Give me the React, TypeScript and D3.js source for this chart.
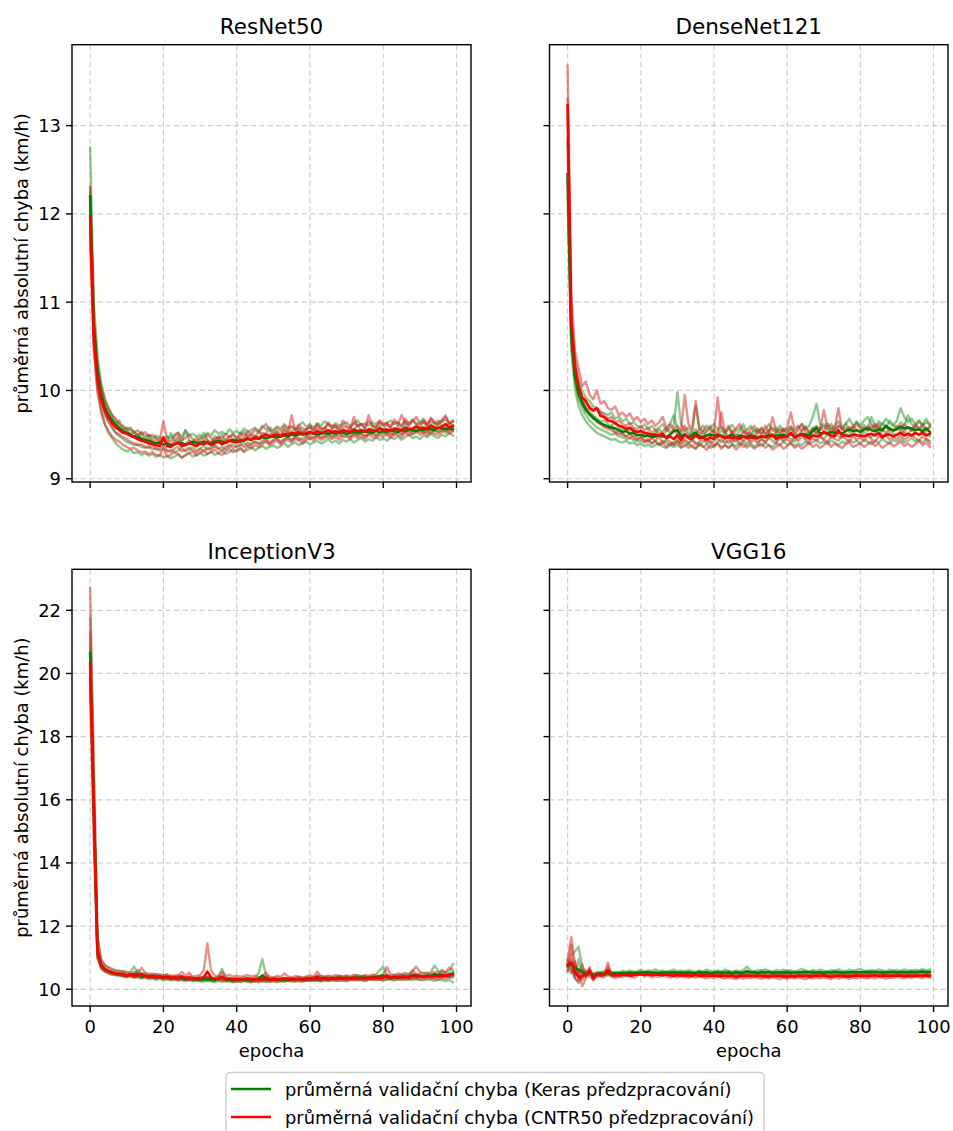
import React from 'react';
import * as d3 from 'd3';

const EPOCHS = d3.range(0, 100);
const X_TICKS = [0, 20, 40, 60, 80, 100];
const Y_TICKS_TOP = [9, 10, 11, 12, 13];
const Y_TICKS_BOTTOM = [10, 12, 14, 16, 18, 20, 22];
const TITLES = ['ResNet50', 'DenseNet121', 'InceptionV3', 'VGG16'];
const LEGEND_LABELS = [
  'průměrná validační chyba (Keras předzpracování)',
  'průměrná validační chyba (CNTR50 předzpracování)',
];
const Y_LABEL = 'průměrná absolutní chyba (km/h)';
const X_LABEL = 'epocha';

// ---------------- ResNet50 ----------------
const RESNET_KERAS_MEAN = [
  12.20, 10.75, 10.22, 9.96, 9.81, 9.72, 9.66, 9.61, 9.57, 9.54,
  9.52, 9.50, 9.48, 9.47, 9.45, 9.44, 9.43, 9.41, 9.40, 9.41,
  9.39, 9.40, 9.38, 9.39, 9.41, 9.40, 9.39, 9.40, 9.42, 9.41,
  9.40, 9.42, 9.41, 9.40, 9.42, 9.43, 9.42, 9.41, 9.43, 9.44,
  9.43, 9.42, 9.44, 9.45, 9.44, 9.46, 9.45, 9.47, 9.46, 9.47,
  9.48, 9.47, 9.48, 9.49, 9.48, 9.50, 9.49, 9.50, 9.51, 9.50,
  9.52, 9.51, 9.50, 9.51, 9.52, 9.51, 9.52, 9.51, 9.53, 9.52,
  9.51, 9.52, 9.53, 9.52, 9.53, 9.54, 9.53, 9.52, 9.54, 9.53,
  9.54, 9.53, 9.55, 9.54, 9.53, 9.55, 9.54, 9.56, 9.55, 9.54,
  9.56, 9.55, 9.57, 9.56, 9.55, 9.58, 9.57, 9.56, 9.57, 9.56,
];
const RESNET_CNTR_MEAN = [
  11.97, 10.62, 10.12, 9.90, 9.77, 9.69, 9.63, 9.58, 9.55, 9.52,
  9.51, 9.49, 9.47, 9.45, 9.43, 9.42, 9.40, 9.39, 9.38, 9.37,
  9.47, 9.37, 9.36, 9.39, 9.41, 9.37, 9.38, 9.40, 9.39, 9.37,
  9.40, 9.39, 9.41, 9.38, 9.40, 9.42, 9.39, 9.41, 9.43, 9.42,
  9.41, 9.44, 9.43, 9.46, 9.44, 9.47, 9.46, 9.48, 9.50, 9.48,
  9.49, 9.50, 9.48, 9.51, 9.50, 9.52, 9.51, 9.53, 9.50, 9.52,
  9.53, 9.51, 9.54, 9.52, 9.53, 9.55, 9.53, 9.54, 9.52, 9.55,
  9.54, 9.53, 9.56, 9.54, 9.55, 9.53, 9.56, 9.55, 9.54, 9.57,
  9.55, 9.56, 9.54, 9.57, 9.56, 9.55, 9.58, 9.56, 9.57, 9.59,
  9.57, 9.58, 9.56, 9.60, 9.58, 9.57, 9.59, 9.62, 9.58, 9.60,
];
const RESNET_KERAS_RUNS = [
  [12.75, 11.00, 10.40, 10.08, 9.92, 9.80, 9.72, 9.66, 9.60, 9.58,
   9.55, 9.56, 9.52, 9.50, 9.53, 9.48, 9.50, 9.46, 9.49, 9.47,
   9.44, 9.48, 9.46, 9.50, 9.52, 9.47, 9.55, 9.49, 9.51, 9.48,
   9.50, 9.47, 9.52, 9.49, 9.55, 9.51, 9.53, 9.50, 9.56, 9.52,
   9.54, 9.51, 9.57, 9.53, 9.55, 9.58, 9.54, 9.60, 9.56, 9.58,
   9.55, 9.59, 9.57, 9.62, 9.58, 9.60, 9.56, 9.61, 9.64, 9.59,
   9.62, 9.58, 9.63, 9.60, 9.65, 9.61, 9.59, 9.63, 9.60, 9.62,
   9.64, 9.60, 9.62, 9.66, 9.61, 9.63, 9.60, 9.64, 9.62, 9.65,
   9.61, 9.63, 9.66, 9.62, 9.64, 9.60, 9.65, 9.63, 9.67, 9.62,
   9.64, 9.68, 9.63, 9.65, 9.62, 9.66, 9.64, 9.67, 9.63, 9.65],
  [11.90, 10.50, 10.02, 9.78, 9.62, 9.52, 9.46, 9.40, 9.36, 9.33,
   9.31, 9.33, 9.29, 9.30, 9.27, 9.29, 9.26, 9.28, 9.25, 9.27,
   9.24, 9.26, 9.23, 9.25, 9.28, 9.24, 9.26, 9.29, 9.25, 9.27,
   9.30, 9.26, 9.28, 9.31, 9.27, 9.29, 9.32, 9.28, 9.30, 9.33,
   9.31, 9.34, 9.30, 9.33, 9.36, 9.32, 9.35, 9.37, 9.34, 9.36,
   9.38, 9.35, 9.37, 9.40, 9.36, 9.39, 9.41, 9.38, 9.40, 9.42,
   9.39, 9.41, 9.43, 9.40, 9.42, 9.45, 9.41, 9.43, 9.40, 9.44,
   9.42, 9.45, 9.41, 9.44, 9.46, 9.42, 9.45, 9.43, 9.47, 9.44,
   9.46, 9.43, 9.47, 9.45, 9.48, 9.44, 9.47, 9.50, 9.46, 9.48,
   9.45, 9.49, 9.47, 9.51, 9.48, 9.46, 9.50, 9.48, 9.52, 9.49],
  [12.30, 10.85, 10.30, 10.02, 9.86, 9.75, 9.70, 9.62, 9.66, 9.55,
   9.58, 9.50, 9.54, 9.47, 9.52, 9.45, 9.49, 9.43, 9.47, 9.42,
   9.46, 9.40, 9.52, 9.43, 9.48, 9.41, 9.55, 9.44, 9.40, 9.47,
   9.42, 9.52, 9.44, 9.40, 9.48, 9.45, 9.50, 9.43, 9.47, 9.51,
   9.45, 9.49, 9.53, 9.47, 9.51, 9.46, 9.54, 9.49, 9.52, 9.56,
   9.50, 9.54, 9.48, 9.57, 9.52, 9.55, 9.50, 9.58, 9.53, 9.56,
   9.60, 9.52, 9.57, 9.54, 9.58, 9.51, 9.56, 9.60, 9.53, 9.57,
   9.52, 9.58, 9.55, 9.61, 9.54, 9.57, 9.52, 9.59, 9.56, 9.60,
   9.55, 9.62, 9.57, 9.53, 9.60, 9.56, 9.63, 9.58, 9.54, 9.61,
   9.58, 9.65, 9.59, 9.62, 9.56, 9.64, 9.60, 9.57, 9.63, 9.59],
  [12.05, 10.65, 10.15, 9.92, 9.76, 9.66, 9.58, 9.52, 9.48, 9.45,
   9.42, 9.40, 9.38, 9.39, 9.36, 9.35, 9.37, 9.33, 9.35, 9.32,
   9.34, 9.31, 9.33, 9.30, 9.32, 9.35, 9.31, 9.33, 9.36, 9.32,
   9.34, 9.37, 9.33, 9.35, 9.38, 9.34, 9.36, 9.33, 9.37, 9.39,
   9.36, 9.38, 9.41, 9.37, 9.40, 9.42, 9.39, 9.41, 9.43, 9.40,
   9.43, 9.45, 9.41, 9.44, 9.46, 9.43, 9.47, 9.44, 9.46, 9.48,
   9.45, 9.47, 9.49, 9.46, 9.48, 9.50, 9.47, 9.49, 9.51, 9.48,
   9.50, 9.47, 9.51, 9.49, 9.52, 9.48, 9.50, 9.53, 9.49, 9.51,
   9.53, 9.50, 9.52, 9.49, 9.54, 9.51, 9.53, 9.55, 9.50, 9.53,
   9.55, 9.52, 9.54, 9.51, 9.56, 9.53, 9.55, 9.52, 9.57, 9.54],
];
const RESNET_CNTR_RUNS = [
  [12.30, 10.80, 10.25, 10.05, 9.88, 9.80, 9.72, 9.68, 9.62, 9.60,
   9.56, 9.58, 9.52, 9.55, 9.50, 9.53, 9.48, 9.50, 9.46, 9.44,
   9.65, 9.45, 9.42, 9.48, 9.52, 9.44, 9.46, 9.50, 9.45, 9.42,
   9.47, 9.44, 9.50, 9.46, 9.42, 9.48, 9.45, 9.51, 9.47, 9.50,
   9.46, 9.52, 9.48, 9.54, 9.50, 9.56, 9.52, 9.58, 9.62, 9.55,
   9.53, 9.58, 9.54, 9.60, 9.56, 9.59, 9.55, 9.61, 9.57, 9.55,
   9.60, 9.56, 9.62, 9.58, 9.55, 9.64, 9.59, 9.61, 9.57, 9.66,
   9.60, 9.58, 9.64, 9.60, 9.62, 9.58, 9.65, 9.61, 9.59, 9.66,
   9.62, 9.64, 9.59, 9.67, 9.63, 9.60, 9.68, 9.62, 9.65, 9.70,
   9.63, 9.66, 9.61, 9.69, 9.64, 9.62, 9.67, 9.72, 9.63, 9.66],
  [11.75, 10.45, 9.98, 9.75, 9.62, 9.54, 9.48, 9.44, 9.42, 9.38,
   9.36, 9.34, 9.35, 9.32, 9.30, 9.31, 9.28, 9.30, 9.27, 9.26,
   9.35, 9.25, 9.27, 9.30, 9.28, 9.24, 9.27, 9.29, 9.31, 9.26,
   9.29, 9.32, 9.28, 9.30, 9.33, 9.29, 9.27, 9.31, 9.34, 9.30,
   9.32, 9.35, 9.31, 9.37, 9.34, 9.38, 9.36, 9.39, 9.42, 9.38,
   9.41, 9.43, 9.39, 9.42, 9.44, 9.41, 9.45, 9.43, 9.40, 9.44,
   9.46, 9.43, 9.47, 9.44, 9.46, 9.48, 9.45, 9.47, 9.44, 9.48,
   9.47, 9.45, 9.49, 9.46, 9.48, 9.45, 9.50, 9.47, 9.46, 9.49,
   9.48, 9.50, 9.46, 9.51, 9.49, 9.47, 9.52, 9.49, 9.51, 9.53,
   9.50, 9.52, 9.49, 9.54, 9.51, 9.50, 9.53, 9.55, 9.51, 9.54],
  [12.10, 10.70, 10.18, 9.95, 9.80, 9.72, 9.66, 9.60, 9.57, 9.54,
   9.53, 9.50, 9.48, 9.50, 9.46, 9.44, 9.45, 9.42, 9.43, 9.40,
   9.44, 9.41, 9.38, 9.42, 9.45, 9.40, 9.39, 9.43, 9.41, 9.38,
   9.42, 9.40, 9.44, 9.41, 9.45, 9.47, 9.42, 9.44, 9.48, 9.45,
   9.43, 9.47, 9.45, 9.50, 9.47, 9.49, 9.46, 9.52, 9.49, 9.51,
   9.50, 9.53, 9.49, 9.55, 9.52, 9.72, 9.54, 9.57, 9.52, 9.56,
   9.58, 9.54, 9.60, 9.56, 9.58, 9.62, 9.57, 9.59, 9.55, 9.60,
   9.58, 9.56, 9.70, 9.59, 9.62, 9.57, 9.72, 9.60, 9.58, 9.63,
   9.60, 9.62, 9.58, 9.64, 9.61, 9.72, 9.63, 9.60, 9.66, 9.62,
   9.61, 9.64, 9.60, 9.68, 9.63, 9.61, 9.65, 9.70, 9.62, 9.64],
  [11.80, 10.55, 10.08, 9.85, 9.72, 9.64, 9.58, 9.52, 9.50, 9.47,
   9.45, 9.42, 9.40, 9.38, 9.39, 9.36, 9.35, 9.37, 9.33, 9.34,
   9.38, 9.32, 9.30, 9.34, 9.36, 9.31, 9.33, 9.35, 9.32, 9.30,
   9.34, 9.31, 9.35, 9.33, 9.37, 9.34, 9.32, 9.36, 9.38, 9.35,
   9.37, 9.39, 9.36, 9.41, 9.38, 9.42, 9.40, 9.43, 9.45, 9.41,
   9.44, 9.46, 9.42, 9.45, 9.47, 9.44, 9.48, 9.46, 9.43, 9.47,
   9.49, 9.46, 9.50, 9.47, 9.49, 9.51, 9.48, 9.50, 9.47, 9.52,
   9.50, 9.48, 9.52, 9.49, 9.51, 9.48, 9.53, 9.50, 9.49, 9.52,
   9.51, 9.53, 9.49, 9.54, 9.52, 9.50, 9.55, 9.52, 9.54, 9.56,
   9.53, 9.55, 9.52, 9.57, 9.54, 9.53, 9.56, 9.58, 9.54, 9.57],
];

// ---------------- DenseNet121 ----------------
const DENSENET_KERAS_MEAN = [
  12.45, 10.62, 10.16, 9.96, 9.86, 9.78, 9.73, 9.69, 9.66, 9.63,
  9.61, 9.59, 9.58, 9.57, 9.55, 9.53, 9.54, 9.51, 9.52, 9.49,
  9.50, 9.48, 9.49, 9.47, 9.48, 9.49, 9.48, 9.47, 9.50, 9.54,
  9.55, 9.48, 9.50, 9.47, 9.49, 9.52, 9.48, 9.47, 9.49, 9.50,
  9.49, 9.48, 9.49, 9.47, 9.48, 9.50, 9.46, 9.49, 9.48, 9.47,
  9.49, 9.48, 9.47, 9.48, 9.47, 9.50, 9.48, 9.49, 9.49, 9.50,
  9.48, 9.51, 9.47, 9.49, 9.51, 9.50, 9.49, 9.54, 9.58, 9.51,
  9.52, 9.51, 9.53, 9.52, 9.52, 9.51, 9.54, 9.56, 9.54, 9.55,
  9.53, 9.56, 9.57, 9.55, 9.54, 9.56, 9.55, 9.60, 9.56, 9.55,
  9.56, 9.59, 9.57, 9.58, 9.57, 9.55, 9.56, 9.54, 9.57, 9.53,
];
const DENSENET_CNTR_MEAN = [
  13.23, 10.80, 10.28, 10.05, 9.92, 9.88, 9.80, 9.77, 9.80, 9.71,
  9.70, 9.66, 9.65, 9.63, 9.60, 9.59, 9.56, 9.58, 9.54, 9.53,
  9.54, 9.52, 9.51, 9.50, 9.50, 9.49, 9.51, 9.46, 9.48, 9.45,
  9.49, 9.44, 9.50, 9.46, 9.45, 9.49, 9.46, 9.47, 9.44, 9.47,
  9.45, 9.50, 9.48, 9.46, 9.47, 9.46, 9.47, 9.45, 9.48, 9.46,
  9.47, 9.46, 9.46, 9.48, 9.47, 9.48, 9.50, 9.45, 9.48, 9.47,
  9.48, 9.52, 9.47, 9.49, 9.50, 9.48, 9.46, 9.49, 9.48, 9.49,
  9.53, 9.51, 9.49, 9.48, 9.55, 9.49, 9.49, 9.48, 9.50, 9.49,
  9.49, 9.48, 9.50, 9.51, 9.49, 9.52, 9.47, 9.50, 9.50, 9.48,
  9.50, 9.52, 9.49, 9.51, 9.49, 9.52, 9.50, 9.52, 9.49, 9.51,
];
const DENSENET_KERAS_RUNS = [
  [12.80, 10.85, 10.35, 10.12, 10.00, 9.92, 9.88, 9.82, 9.80, 9.76,
   9.74, 9.72, 9.75, 9.68, 9.70, 9.65, 9.68, 9.62, 9.64, 9.60,
   9.58, 9.62, 9.56, 9.60, 9.55, 9.58, 9.62, 9.54, 9.57, 9.60,
   9.98, 9.62, 9.55, 9.58, 9.52, 9.82, 9.56, 9.60, 9.53, 9.58,
   9.62, 9.55, 9.59, 9.52, 9.57, 9.61, 9.54, 9.58, 9.52, 9.56,
   9.60, 9.53, 9.57, 9.51, 9.55, 9.62, 9.54, 9.58, 9.52, 9.57,
   9.55, 9.60, 9.53, 9.58, 9.62, 9.56, 9.60, 9.70, 9.85, 9.62,
   9.58, 9.63, 9.56, 9.60, 9.65, 9.58, 9.62, 9.68, 9.60, 9.64,
   9.60, 9.66, 9.70, 9.62, 9.58, 9.65, 9.61, 9.68, 9.63, 9.60,
   9.66, 9.80, 9.70, 9.64, 9.68, 9.62, 9.66, 9.60, 9.64, 9.62],
  [12.20, 10.45, 10.02, 9.82, 9.72, 9.65, 9.60, 9.56, 9.52, 9.50,
   9.48, 9.46, 9.44, 9.45, 9.42, 9.41, 9.43, 9.40, 9.41, 9.38,
   9.40, 9.37, 9.39, 9.36, 9.38, 9.40, 9.36, 9.35, 9.38, 9.36,
   9.39, 9.35, 9.37, 9.40, 9.36, 9.34, 9.38, 9.36, 9.39, 9.35,
   9.37, 9.40, 9.36, 9.38, 9.35, 9.39, 9.37, 9.41, 9.36, 9.38,
   9.40, 9.36, 9.39, 9.37, 9.41, 9.38, 9.36, 9.40, 9.38, 9.42,
   9.39, 9.41, 9.37, 9.40, 9.38, 9.42, 9.39, 9.41, 9.44, 9.40,
   9.42, 9.39, 9.43, 9.41, 9.38, 9.42, 9.40, 9.44, 9.41, 9.43,
   9.40, 9.44, 9.42, 9.39, 9.43, 9.41, 9.45, 9.42, 9.40, 9.44,
   9.42, 9.45, 9.41, 9.43, 9.46, 9.42, 9.44, 9.41, 9.45, 9.43],
  [12.45, 10.65, 10.18, 9.98, 9.88, 9.80, 9.75, 9.72, 9.68, 9.65,
   9.66, 9.62, 9.60, 9.63, 9.58, 9.56, 9.59, 9.54, 9.57, 9.52,
   9.55, 9.50, 9.53, 9.48, 9.52, 9.56, 9.50, 9.54, 9.62, 9.72,
   9.58, 9.50, 9.55, 9.48, 9.53, 9.50, 9.56, 9.49, 9.54, 9.60,
   9.52, 9.48, 9.55, 9.50, 9.57, 9.51, 9.48, 9.54, 9.62, 9.52,
   9.49, 9.56, 9.51, 9.58, 9.50, 9.55, 9.48, 9.53, 9.60, 9.54,
   9.50, 9.57, 9.52, 9.48, 9.55, 9.60, 9.53, 9.58, 9.52, 9.56,
   9.62, 9.54, 9.58, 9.52, 9.60, 9.56, 9.63, 9.55, 9.59, 9.65,
   9.57, 9.61, 9.55, 9.70, 9.60, 9.56, 9.63, 9.58, 9.66, 9.61,
   9.57, 9.64, 9.60, 9.72, 9.62, 9.58, 9.65, 9.61, 9.68, 9.60],
  [12.35, 10.55, 10.10, 9.90, 9.80, 9.72, 9.66, 9.62, 9.58, 9.56,
   9.54, 9.52, 9.50, 9.51, 9.48, 9.47, 9.45, 9.46, 9.44, 9.42,
   9.43, 9.41, 9.44, 9.40, 9.42, 9.39, 9.43, 9.41, 9.38, 9.42,
   9.45, 9.40, 9.43, 9.39, 9.44, 9.41, 9.38, 9.42, 9.45, 9.40,
   9.43, 9.46, 9.41, 9.44, 9.40, 9.45, 9.42, 9.47, 9.43, 9.40,
   9.44, 9.48, 9.42, 9.45, 9.41, 9.46, 9.50, 9.43, 9.47, 9.44,
   9.48, 9.45, 9.42, 9.47, 9.50, 9.46, 9.44, 9.49, 9.52, 9.47,
   9.45, 9.50, 9.47, 9.52, 9.48, 9.46, 9.51, 9.49, 9.54, 9.50,
   9.48, 9.53, 9.50, 9.47, 9.52, 9.55, 9.50, 9.48, 9.54, 9.51,
   9.49, 9.55, 9.52, 9.50, 9.56, 9.52, 9.49, 9.54, 9.51, 9.48],
];
const DENSENET_CNTR_RUNS = [
  [13.68, 11.10, 10.45, 10.25, 10.05, 10.10, 9.95, 9.90, 10.00, 9.85,
   9.88, 9.80, 9.78, 9.82, 9.72, 9.75, 9.70, 9.74, 9.66, 9.70,
   9.64, 9.68, 9.62, 9.66, 9.60, 9.64, 9.70, 9.58, 9.62, 9.56,
   9.60, 9.55, 9.95, 9.62, 9.56, 9.88, 9.58, 9.54, 9.60, 9.56,
   9.52, 9.92, 9.58, 9.54, 9.60, 9.52, 9.57, 9.62, 9.55, 9.50,
   9.56, 9.60, 9.53, 9.57, 9.50, 9.55, 9.58, 9.52, 9.56, 9.54,
   9.58, 9.75, 9.56, 9.60, 9.54, 9.58, 9.52, 9.56, 9.60, 9.55,
   9.78, 9.58, 9.62, 9.55, 9.60, 9.57, 9.54, 9.59, 9.56, 9.62,
   9.58, 9.55, 9.60, 9.56, 9.62, 9.58, 9.54, 9.60, 9.57, 9.55,
   9.60, 9.56, 9.62, 9.58, 9.55, 9.60, 9.57, 9.62, 9.56, 9.58],
  [13.30, 10.70, 10.22, 10.00, 9.88, 9.80, 9.74, 9.70, 9.66, 9.62,
   9.58, 9.60, 9.55, 9.52, 9.54, 9.50, 9.48, 9.51, 9.46, 9.44,
   9.47, 9.42, 9.45, 9.40, 9.43, 9.38, 9.41, 9.36, 9.40, 9.38,
   9.42, 9.36, 9.39, 9.35, 9.38, 9.34, 9.40, 9.37, 9.33, 9.38,
   9.36, 9.40, 9.34, 9.38, 9.35, 9.39, 9.33, 9.37, 9.40, 9.35,
   9.38, 9.34, 9.37, 9.40, 9.35, 9.38, 9.33, 9.36, 9.39, 9.34,
   9.37, 9.40, 9.35, 9.38, 9.34, 9.37, 9.41, 9.36, 9.39, 9.35,
   9.38, 9.42, 9.36, 9.40, 9.37, 9.35, 9.39, 9.41, 9.36, 9.38,
   9.40, 9.36, 9.39, 9.42, 9.37, 9.40, 9.35, 9.38, 9.41, 9.37,
   9.39, 9.42, 9.37, 9.40, 9.36, 9.39, 9.43, 9.38, 9.41, 9.36],
  [13.10, 10.75, 10.28, 10.05, 9.92, 9.86, 9.82, 9.78, 9.80, 9.75,
   9.72, 9.68, 9.70, 9.64, 9.66, 9.62, 9.60, 9.63, 9.58, 9.56,
   9.60, 9.55, 9.58, 9.52, 9.56, 9.50, 9.54, 9.58, 9.52, 9.56,
   9.50, 9.54, 9.60, 9.52, 9.48, 9.56, 9.50, 9.54, 9.48, 9.52,
   9.55, 9.50, 9.75, 9.52, 9.48, 9.54, 9.50, 9.47, 9.53, 9.49,
   9.52, 9.48, 9.55, 9.50, 9.60, 9.52, 9.70, 9.54, 9.50, 9.56,
   9.52, 9.58, 9.50, 9.55, 9.62, 9.53, 9.50, 9.56, 9.52, 9.58,
   9.54, 9.60, 9.52, 9.56, 9.80, 9.55, 9.58, 9.53, 9.60, 9.55,
   9.52, 9.58, 9.54, 9.60, 9.56, 9.62, 9.55, 9.52, 9.58, 9.54,
   9.56, 9.60, 9.53, 9.58, 9.55, 9.62, 9.56, 9.59, 9.54, 9.60],
  [12.85, 10.65, 10.18, 9.96, 9.84, 9.78, 9.72, 9.68, 9.64, 9.62,
   9.60, 9.56, 9.58, 9.53, 9.50, 9.52, 9.48, 9.46, 9.49, 9.45,
   9.47, 9.44, 9.42, 9.46, 9.43, 9.48, 9.40, 9.44, 9.42, 9.39,
   9.43, 9.40, 9.45, 9.41, 9.44, 9.39, 9.42, 9.46, 9.40, 9.43,
   9.38, 9.42, 9.45, 9.40, 9.44, 9.41, 9.46, 9.39, 9.43, 9.47,
   9.41, 9.44, 9.40, 9.45, 9.42, 9.47, 9.43, 9.40, 9.46, 9.42,
   9.45, 9.41, 9.47, 9.43, 9.48, 9.44, 9.41, 9.46, 9.43, 9.48,
   9.44, 9.42, 9.47, 9.45, 9.43, 9.49, 9.45, 9.42, 9.48, 9.44,
   9.47, 9.43, 9.49, 9.45, 9.42, 9.48, 9.46, 9.50, 9.44, 9.47,
   9.45, 9.49, 9.44, 9.47, 9.50, 9.46, 9.43, 9.48, 9.45, 9.40],
];

// ---------------- InceptionV3 ----------------
const INCEPTION_KERAS_MEAN = [
  20.65, 15.85, 11.25, 10.78, 10.64, 10.58, 10.53, 10.50, 10.49, 10.48,
  10.44, 10.47, 10.48, 10.48, 10.42, 10.43, 10.40, 10.39, 10.39, 10.38,
  10.38, 10.39, 10.36, 10.35, 10.36, 10.35, 10.32, 10.35, 10.32, 10.32,
  10.33, 10.31, 10.32, 10.30, 10.32, 10.32, 10.39, 10.32, 10.30, 10.29,
  10.31, 10.30, 10.31, 10.30, 10.29, 10.31, 10.34, 10.44, 10.32, 10.31,
  10.31, 10.30, 10.31, 10.30, 10.31, 10.31, 10.31, 10.33, 10.31, 10.32,
  10.34, 10.33, 10.33, 10.33, 10.35, 10.33, 10.35, 10.34, 10.36, 10.34,
  10.36, 10.34, 10.36, 10.36, 10.37, 10.36, 10.36, 10.37, 10.36, 10.42,
  10.44, 10.40, 10.37, 10.38, 10.38, 10.39, 10.39, 10.39, 10.45, 10.41,
  10.41, 10.40, 10.42, 10.42, 10.48, 10.44, 10.45, 10.43, 10.43, 10.50,
];
const INCEPTION_CNTR_MEAN = [
  20.30, 15.75, 11.20, 10.77, 10.64, 10.58, 10.54, 10.50, 10.49, 10.47,
  10.44, 10.46, 10.43, 10.44, 10.48, 10.43, 10.40, 10.43, 10.38, 10.41,
  10.37, 10.39, 10.36, 10.38, 10.35, 10.41, 10.36, 10.37, 10.35, 10.34,
  10.34, 10.38, 10.56, 10.38, 10.32, 10.35, 10.39, 10.32, 10.34, 10.31,
  10.32, 10.31, 10.32, 10.34, 10.31, 10.32, 10.30, 10.32, 10.37, 10.31,
  10.32, 10.31, 10.31, 10.35, 10.32, 10.32, 10.32, 10.32, 10.31, 10.33,
  10.33, 10.33, 10.40, 10.33, 10.34, 10.33, 10.34, 10.35, 10.36, 10.34,
  10.34, 10.35, 10.37, 10.35, 10.35, 10.35, 10.36, 10.37, 10.38, 10.36,
  10.38, 10.44, 10.38, 10.38, 10.39, 10.39, 10.40, 10.38, 10.43, 10.45,
  10.42, 10.40, 10.42, 10.41, 10.42, 10.41, 10.44, 10.43, 10.47, 10.47,
];
const INCEPTION_KERAS_RUNS = [
  [21.75, 16.80, 11.60, 10.90, 10.75, 10.68, 10.62, 10.58, 10.60, 10.55,
   10.52, 10.56, 10.72, 10.50, 10.48, 10.52, 10.46, 10.44, 10.48, 10.42,
   10.45, 10.40, 10.43, 10.38, 10.46, 10.40, 10.36, 10.42, 10.38, 10.35,
   10.40, 10.36, 10.38, 10.34, 10.37, 10.40, 10.65, 10.38, 10.35, 10.33,
   10.36, 10.34, 10.38, 10.35, 10.33, 10.37, 10.52, 10.95, 10.45, 10.36,
   10.34, 10.38, 10.35, 10.33, 10.37, 10.34, 10.36, 10.39, 10.35, 10.38,
   10.40, 10.36, 10.39, 10.42, 10.38, 10.41, 10.37, 10.40, 10.43, 10.39,
   10.42, 10.38, 10.41, 10.45, 10.40, 10.43, 10.39, 10.42, 10.46, 10.60,
   10.72, 10.45, 10.42, 10.46, 10.43, 10.48, 10.44, 10.47, 10.50, 10.46,
   10.49, 10.52, 10.48, 10.55, 10.75, 10.58, 10.50, 10.53, 10.56, 10.80],
  [20.90, 15.60, 11.10, 10.65, 10.55, 10.50, 10.46, 10.44, 10.42, 10.40,
   10.38, 10.40, 10.36, 10.38, 10.34, 10.36, 10.32, 10.34, 10.30, 10.33,
   10.29, 10.31, 10.28, 10.30, 10.27, 10.29, 10.26, 10.28, 10.25, 10.27,
   10.26, 10.24, 10.27, 10.25, 10.23, 10.26, 10.24, 10.27, 10.25, 10.22,
   10.25, 10.23, 10.26, 10.24, 10.22, 10.25, 10.23, 10.26, 10.24, 10.27,
   10.25, 10.23, 10.26, 10.24, 10.27, 10.25, 10.28, 10.26, 10.24, 10.27,
   10.29, 10.26, 10.28, 10.25, 10.29, 10.27, 10.30, 10.28, 10.26, 10.29,
   10.27, 10.30, 10.28, 10.31, 10.29, 10.27, 10.30, 10.32, 10.28, 10.31,
   10.29, 10.32, 10.30, 10.28, 10.31, 10.33, 10.30, 10.32, 10.29, 10.33,
   10.31, 10.28, 10.32, 10.30, 10.27, 10.31, 10.29, 10.26, 10.30, 10.22],
  [20.30, 15.90, 11.30, 10.80, 10.65, 10.58, 10.55, 10.50, 10.48, 10.52,
   10.46, 10.50, 10.44, 10.62, 10.48, 10.42, 10.46, 10.40, 10.44, 10.38,
   10.42, 10.48, 10.38, 10.35, 10.40, 10.37, 10.34, 10.38, 10.35, 10.33,
   10.36, 10.33, 10.35, 10.32, 10.34, 10.31, 10.36, 10.33, 10.30, 10.34,
   10.32, 10.30, 10.33, 10.31, 10.35, 10.32, 10.30, 10.34, 10.31, 10.33,
   10.36, 10.32, 10.30, 10.34, 10.32, 10.35, 10.33, 10.37, 10.34, 10.32,
   10.35, 10.38, 10.34, 10.36, 10.40, 10.35, 10.38, 10.36, 10.41, 10.37,
   10.39, 10.36, 10.40, 10.38, 10.42, 10.39, 10.37, 10.41, 10.38, 10.42,
   10.40, 10.44, 10.41, 10.39, 10.43, 10.40, 10.45, 10.42, 10.60, 10.48,
   10.44, 10.42, 10.46, 10.43, 10.48, 10.45, 10.62, 10.50, 10.46, 10.55],
  [19.80, 15.00, 11.00, 10.70, 10.60, 10.55, 10.50, 10.47, 10.45, 10.43,
   10.41, 10.44, 10.40, 10.42, 10.38, 10.41, 10.37, 10.39, 10.35, 10.37,
   10.34, 10.36, 10.33, 10.35, 10.32, 10.34, 10.31, 10.33, 10.30, 10.32,
   10.29, 10.31, 10.28, 10.30, 10.32, 10.29, 10.31, 10.28, 10.30, 10.27,
   10.29, 10.31, 10.28, 10.30, 10.27, 10.29, 10.32, 10.28, 10.30, 10.27,
   10.30, 10.28, 10.31, 10.29, 10.27, 10.30, 10.28, 10.31, 10.29, 10.32,
   10.30, 10.33, 10.31, 10.29, 10.32, 10.30, 10.33, 10.31, 10.34, 10.32,
   10.35, 10.32, 10.34, 10.31, 10.35, 10.33, 10.36, 10.34, 10.32, 10.36,
   10.34, 10.37, 10.35, 10.38, 10.36, 10.34, 10.38, 10.36, 10.39, 10.37,
   10.40, 10.38, 10.41, 10.39, 10.42, 10.40, 10.38, 10.42, 10.40, 10.43],
];
const INCEPTION_CNTR_RUNS = [
  [22.70, 17.20, 11.70, 10.95, 10.78, 10.70, 10.65, 10.60, 10.56, 10.58,
   10.54, 10.52, 10.55, 10.50, 10.68, 10.52, 10.48, 10.50, 10.46, 10.48,
   10.44, 10.46, 10.42, 10.45, 10.41, 10.55, 10.43, 10.52, 10.40, 10.42,
   10.45, 10.60, 11.45, 10.60, 10.44, 10.40, 10.55, 10.42, 10.46, 10.40,
   10.43, 10.39, 10.42, 10.45, 10.40, 10.43, 10.38, 10.41, 10.52, 10.40,
   10.38, 10.42, 10.39, 10.50, 10.41, 10.38, 10.42, 10.40, 10.37, 10.41,
   10.44, 10.40, 10.56, 10.42, 10.39, 10.43, 10.41, 10.45, 10.42, 10.40,
   10.44, 10.41, 10.46, 10.43, 10.40, 10.45, 10.42, 10.47, 10.44, 10.41,
   10.46, 10.70, 10.48, 10.44, 10.50, 10.46, 10.52, 10.48, 10.58, 10.72,
   10.55, 10.50, 10.53, 10.49, 10.55, 10.51, 10.58, 10.54, 10.68, 10.60],
  [21.30, 16.00, 11.20, 10.75, 10.62, 10.56, 10.52, 10.49, 10.46, 10.44,
   10.42, 10.44, 10.40, 10.42, 10.38, 10.41, 10.37, 10.39, 10.35, 10.38,
   10.34, 10.36, 10.33, 10.35, 10.31, 10.34, 10.32, 10.30, 10.33, 10.31,
   10.29, 10.32, 10.38, 10.30, 10.28, 10.31, 10.29, 10.27, 10.30, 10.28,
   10.26, 10.29, 10.27, 10.30, 10.28, 10.26, 10.29, 10.27, 10.30, 10.28,
   10.31, 10.29, 10.27, 10.30, 10.28, 10.31, 10.29, 10.32, 10.30, 10.28,
   10.31, 10.29, 10.33, 10.30, 10.32, 10.29, 10.33, 10.31, 10.34, 10.32,
   10.30, 10.34, 10.32, 10.35, 10.33, 10.31, 10.35, 10.33, 10.36, 10.34,
   10.37, 10.35, 10.33, 10.37, 10.35, 10.38, 10.36, 10.34, 10.38, 10.36,
   10.39, 10.37, 10.40, 10.38, 10.36, 10.40, 10.38, 10.41, 10.39, 10.42],
  [20.20, 15.50, 11.05, 10.70, 10.58, 10.52, 10.48, 10.45, 10.47, 10.42,
   10.40, 10.43, 10.38, 10.41, 10.37, 10.39, 10.35, 10.38, 10.34, 10.36,
   10.32, 10.35, 10.31, 10.33, 10.30, 10.32, 10.29, 10.31, 10.28, 10.30,
   10.27, 10.29, 10.40, 10.28, 10.26, 10.35, 10.28, 10.25, 10.27, 10.24,
   10.26, 10.24, 10.27, 10.25, 10.23, 10.26, 10.24, 10.27, 10.25, 10.23,
   10.26, 10.24, 10.27, 10.25, 10.28, 10.26, 10.24, 10.27, 10.25, 10.28,
   10.26, 10.29, 10.27, 10.25, 10.28, 10.26, 10.29, 10.27, 10.30, 10.28,
   10.26, 10.29, 10.31, 10.28, 10.30, 10.27, 10.31, 10.29, 10.32, 10.30,
   10.28, 10.31, 10.33, 10.30, 10.32, 10.29, 10.33, 10.31, 10.34, 10.32,
   10.30, 10.34, 10.32, 10.35, 10.33, 10.31, 10.35, 10.33, 10.36, 10.38],
  [19.50, 14.80, 11.00, 10.68, 10.58, 10.54, 10.50, 10.48, 10.46, 10.44,
   10.42, 10.45, 10.41, 10.43, 10.50, 10.42, 10.40, 10.44, 10.39, 10.41,
   10.38, 10.40, 10.37, 10.39, 10.36, 10.42, 10.38, 10.35, 10.37, 10.34,
   10.36, 10.33, 10.40, 10.35, 10.32, 10.34, 10.45, 10.33, 10.35, 10.32,
   10.34, 10.31, 10.33, 10.36, 10.32, 10.34, 10.31, 10.33, 10.42, 10.32,
   10.34, 10.31, 10.33, 10.36, 10.32, 10.35, 10.33, 10.31, 10.34, 10.36,
   10.33, 10.35, 10.45, 10.34, 10.37, 10.35, 10.33, 10.36, 10.38, 10.35,
   10.37, 10.34, 10.38, 10.36, 10.39, 10.37, 10.35, 10.38, 10.40, 10.37,
   10.39, 10.42, 10.38, 10.41, 10.39, 10.43, 10.40, 10.38, 10.42, 10.40,
   10.43, 10.41, 10.44, 10.42, 10.45, 10.43, 10.47, 10.44, 10.46, 10.48],
];

// ---------------- VGG16 ----------------
const VGG_KERAS_MEAN = [
  10.75, 10.80, 10.68, 10.62, 10.55, 10.46, 10.53, 10.46, 10.48, 10.50,
  10.50, 10.50, 10.49, 10.51, 10.50, 10.52, 10.49, 10.53, 10.51, 10.52,
  10.53, 10.53, 10.54, 10.52, 10.53, 10.51, 10.54, 10.52, 10.53, 10.54,
  10.52, 10.53, 10.52, 10.54, 10.52, 10.51, 10.54, 10.52, 10.54, 10.51,
  10.52, 10.54, 10.52, 10.53, 10.53, 10.51, 10.54, 10.52, 10.52, 10.57,
  10.53, 10.54, 10.52, 10.54, 10.54, 10.54, 10.52, 10.53, 10.53, 10.54,
  10.53, 10.53, 10.53, 10.54, 10.54, 10.54, 10.54, 10.53, 10.53, 10.54,
  10.52, 10.54, 10.53, 10.55, 10.54, 10.53, 10.53, 10.54, 10.54, 10.54,
  10.54, 10.54, 10.54, 10.54, 10.54, 10.54, 10.53, 10.54, 10.54, 10.54,
  10.54, 10.54, 10.55, 10.53, 10.55, 10.54, 10.54, 10.56, 10.54, 10.55,
];
const VGG_CNTR_MEAN = [
  10.77, 10.85, 10.55, 10.38, 10.42, 10.48, 10.58, 10.35, 10.48, 10.45,
  10.46, 10.61, 10.45, 10.44, 10.45, 10.46, 10.46, 10.44, 10.45, 10.47,
  10.48, 10.46, 10.48, 10.45, 10.47, 10.46, 10.45, 10.47, 10.44, 10.43,
  10.45, 10.44, 10.45, 10.44, 10.42, 10.45, 10.43, 10.44, 10.43, 10.43,
  10.44, 10.42, 10.43, 10.42, 10.42, 10.43, 10.39, 10.43, 10.41, 10.43,
  10.42, 10.42, 10.43, 10.41, 10.42, 10.40, 10.43, 10.41, 10.42, 10.41,
  10.39, 10.42, 10.40, 10.43, 10.41, 10.42, 10.41, 10.41, 10.43, 10.42,
  10.44, 10.41, 10.40, 10.42, 10.42, 10.42, 10.41, 10.41, 10.42, 10.44,
  10.42, 10.43, 10.41, 10.43, 10.44, 10.42, 10.43, 10.42, 10.42, 10.43,
  10.43, 10.44, 10.41, 10.43, 10.42, 10.43, 10.43, 10.42, 10.44, 10.43,
];
const VGG_KERAS_RUNS = [
  [10.55, 11.10, 11.20, 11.35, 10.70, 10.50, 10.62, 10.48, 10.55, 10.52,
   10.58, 10.54, 10.50, 10.56, 10.52, 10.58, 10.55, 10.60, 10.53, 10.57,
   10.62, 10.56, 10.60, 10.58, 10.63, 10.57, 10.60, 10.55, 10.59, 10.62,
   10.57, 10.60, 10.56, 10.61, 10.58, 10.55, 10.60, 10.57, 10.62, 10.58,
   10.56, 10.60, 10.57, 10.62, 10.58, 10.55, 10.60, 10.57, 10.61, 10.72,
   10.60, 10.57, 10.61, 10.58, 10.63, 10.59, 10.56, 10.61, 10.58, 10.62,
   10.58, 10.61, 10.57, 10.60, 10.64, 10.59, 10.56, 10.61, 10.58, 10.62,
   10.59, 10.56, 10.61, 10.58, 10.63, 10.59, 10.57, 10.62, 10.58, 10.61,
   10.64, 10.59, 10.56, 10.61, 10.58, 10.63, 10.60, 10.57, 10.62, 10.59,
   10.61, 10.58, 10.63, 10.60, 10.57, 10.62, 10.59, 10.64, 10.60, 10.63],
  [10.95, 10.60, 10.35, 10.20, 10.45, 10.38, 10.50, 10.42, 10.46, 10.44,
   10.46, 10.43, 10.47, 10.44, 10.48, 10.45, 10.42, 10.46, 10.44, 10.48,
   10.45, 10.49, 10.46, 10.43, 10.47, 10.45, 10.49, 10.46, 10.44, 10.48,
   10.46, 10.43, 10.47, 10.45, 10.49, 10.46, 10.44, 10.48, 10.45, 10.47,
   10.44, 10.48, 10.46, 10.43, 10.47, 10.45, 10.49, 10.46, 10.44, 10.48,
   10.45, 10.49, 10.46, 10.44, 10.48, 10.45, 10.47, 10.44, 10.48, 10.46,
   10.43, 10.47, 10.45, 10.49, 10.46, 10.44, 10.48, 10.45, 10.47, 10.44,
   10.48, 10.46, 10.43, 10.47, 10.45, 10.49, 10.46, 10.44, 10.48, 10.45,
   10.47, 10.44, 10.48, 10.46, 10.43, 10.47, 10.45, 10.49, 10.46, 10.44,
   10.48, 10.45, 10.47, 10.44, 10.48, 10.46, 10.43, 10.47, 10.45, 10.48],
  [10.70, 10.85, 10.80, 10.50, 10.62, 10.40, 10.56, 10.42, 10.50, 10.55,
   10.50, 10.53, 10.56, 10.50, 10.54, 10.52, 10.55, 10.51, 10.57, 10.53,
   10.55, 10.52, 10.56, 10.53, 10.50, 10.55, 10.52, 10.56, 10.53, 10.51,
   10.55, 10.52, 10.56, 10.53, 10.50, 10.54, 10.57, 10.52, 10.55, 10.51,
   10.54, 10.56, 10.52, 10.55, 10.58, 10.53, 10.56, 10.52, 10.55, 10.58,
   10.53, 10.56, 10.52, 10.60, 10.54, 10.57, 10.53, 10.56, 10.52, 10.55,
   10.58, 10.53, 10.56, 10.52, 10.55, 10.59, 10.54, 10.57, 10.53, 10.56,
   10.53, 10.57, 10.54, 10.58, 10.55, 10.52, 10.56, 10.53, 10.57, 10.54,
   10.52, 10.56, 10.60, 10.55, 10.58, 10.54, 10.57, 10.53, 10.56, 10.59,
   10.54, 10.57, 10.53, 10.56, 10.60, 10.55, 10.58, 10.54, 10.57, 10.55],
  [10.80, 10.65, 10.40, 10.95, 10.38, 10.52, 10.45, 10.50, 10.40, 10.47,
   10.45, 10.48, 10.44, 10.50, 10.46, 10.49, 10.45, 10.52, 10.48, 10.51,
   10.49, 10.53, 10.50, 10.54, 10.51, 10.48, 10.52, 10.50, 10.54, 10.51,
   10.49, 10.53, 10.50, 10.52, 10.48, 10.51, 10.54, 10.50, 10.52, 10.49,
   10.52, 10.50, 10.54, 10.51, 10.48, 10.52, 10.50, 10.53, 10.49, 10.52,
   10.55, 10.51, 10.48, 10.52, 10.50, 10.54, 10.51, 10.49, 10.53, 10.50,
   10.52, 10.49, 10.53, 10.51, 10.48, 10.52, 10.55, 10.50, 10.53, 10.51,
   10.49, 10.53, 10.51, 10.54, 10.50, 10.52, 10.49, 10.53, 10.51, 10.55,
   10.51, 10.54, 10.50, 10.52, 10.55, 10.51, 10.49, 10.53, 10.51, 10.54,
   10.50, 10.53, 10.55, 10.51, 10.54, 10.50, 10.53, 10.56, 10.52, 10.54],
];
const VGG_CNTR_RUNS = [
  [10.90, 11.65, 10.80, 10.30, 10.45, 10.55, 10.40, 10.30, 10.48, 10.42,
   10.44, 10.85, 10.42, 10.46, 10.40, 10.44, 10.48, 10.42, 10.45, 10.50,
   10.46, 10.52, 10.48, 10.45, 10.50, 10.47, 10.44, 10.49, 10.46, 10.43,
   10.47, 10.44, 10.42, 10.46, 10.43, 10.47, 10.44, 10.41, 10.45, 10.42,
   10.46, 10.43, 10.40, 10.44, 10.41, 10.45, 10.38, 10.42, 10.45, 10.41,
   10.44, 10.41, 10.45, 10.42, 10.39, 10.43, 10.40, 10.44, 10.41, 10.38,
   10.42, 10.39, 10.43, 10.40, 10.44, 10.41, 10.38, 10.42, 10.45, 10.41,
   10.44, 10.41, 10.38, 10.42, 10.45, 10.41, 10.44, 10.40, 10.43, 10.46,
   10.42, 10.45, 10.41, 10.44, 10.47, 10.43, 10.40, 10.44, 10.41, 10.45,
   10.42, 10.46, 10.43, 10.40, 10.44, 10.41, 10.45, 10.42, 10.46, 10.43],
  [10.60, 11.40, 10.45, 10.55, 10.10, 10.35, 10.70, 10.28, 10.42, 10.40,
   10.38, 10.55, 10.40, 10.36, 10.42, 10.38, 10.44, 10.40, 10.37, 10.42,
   10.55, 10.40, 10.44, 10.38, 10.42, 10.39, 10.43, 10.40, 10.37, 10.41,
   10.38, 10.42, 10.39, 10.36, 10.40, 10.37, 10.41, 10.38, 10.35, 10.39,
   10.36, 10.40, 10.37, 10.34, 10.38, 10.35, 10.32, 10.37, 10.34, 10.38,
   10.35, 10.39, 10.36, 10.33, 10.37, 10.34, 10.38, 10.35, 10.32, 10.36,
   10.33, 10.37, 10.34, 10.38, 10.35, 10.32, 10.36, 10.34, 10.37, 10.35,
   10.38, 10.35, 10.33, 10.37, 10.34, 10.38, 10.36, 10.33, 10.37, 10.35,
   10.39, 10.36, 10.34, 10.38, 10.35, 10.39, 10.37, 10.34, 10.38, 10.36,
   10.40, 10.37, 10.35, 10.39, 10.36, 10.40, 10.38, 10.35, 10.39, 10.37],
  [10.75, 10.50, 10.90, 10.40, 10.30, 10.60, 10.55, 10.40, 10.50, 10.48,
   10.46, 10.72, 10.48, 10.45, 10.50, 10.47, 10.44, 10.49, 10.46, 10.52,
   10.48, 10.45, 10.50, 10.47, 10.52, 10.48, 10.45, 10.50, 10.47, 10.44,
   10.48, 10.45, 10.49, 10.46, 10.43, 10.47, 10.44, 10.48, 10.45, 10.42,
   10.46, 10.43, 10.47, 10.44, 10.48, 10.45, 10.42, 10.46, 10.43, 10.47,
   10.44, 10.48, 10.45, 10.42, 10.46, 10.43, 10.47, 10.44, 10.48, 10.45,
   10.42, 10.46, 10.43, 10.47, 10.44, 10.48, 10.45, 10.42, 10.46, 10.43,
   10.47, 10.44, 10.48, 10.45, 10.42, 10.46, 10.43, 10.47, 10.44, 10.48,
   10.45, 10.42, 10.46, 10.43, 10.47, 10.44, 10.48, 10.45, 10.42, 10.46,
   10.43, 10.47, 10.44, 10.48, 10.45, 10.42, 10.46, 10.43, 10.47, 10.44],
  [10.85, 10.95, 10.35, 10.25, 10.80, 10.42, 10.65, 10.35, 10.52, 10.50,
   10.48, 10.60, 10.46, 10.50, 10.47, 10.52, 10.48, 10.45, 10.49, 10.46,
   10.50, 10.47, 10.52, 10.48, 10.45, 10.49, 10.46, 10.50, 10.47, 10.44,
   10.48, 10.45, 10.50, 10.46, 10.43, 10.47, 10.44, 10.48, 10.45, 10.49,
   10.46, 10.43, 10.47, 10.44, 10.41, 10.45, 10.42, 10.46, 10.43, 10.47,
   10.44, 10.41, 10.45, 10.48, 10.44, 10.41, 10.45, 10.42, 10.46, 10.43,
   10.47, 10.44, 10.41, 10.45, 10.42, 10.46, 10.43, 10.47, 10.44, 10.48,
   10.45, 10.42, 10.46, 10.43, 10.47, 10.44, 10.41, 10.45, 10.42, 10.46,
   10.43, 10.47, 10.44, 10.48, 10.45, 10.42, 10.46, 10.43, 10.47, 10.44,
   10.48, 10.45, 10.42, 10.46, 10.43, 10.47, 10.44, 10.48, 10.45, 10.46],
];

const FONT = "'DejaVu Sans', sans-serif";
const FS = 17.9;
const TITLE_FS = 21.5;
const GREEN_RUN = '#2a962a';
const RED_RUN = '#d62728';
const GREEN_MEAN = '#008000';
const RED_MEAN = '#ff0000';

type Panel = {
  title: string;
  col: number;
  row: number;
  kerasRuns: number[][];
  cntrRuns: number[][];
  kerasMean: number[];
  cntrMean: number[];
};

const COLS = [
  { x0: 72, x1: 471 },
  { x0: 549.5, x1: 948 },
];
const ROWS = [
  { y0: 44.7, y1: 482, domain: [8.963, 13.917], ticks: Y_TICKS_TOP },
  { y0: 569.3, y1: 1006, domain: [9.471, 23.298], ticks: Y_TICKS_BOTTOM },
];
const X_DOMAIN = [-4.95, 103.95];

function PanelView({ p }: { p: Panel }) {
  const c = COLS[p.col];
  const r = ROWS[p.row];
  const x = d3.scaleLinear().domain(X_DOMAIN).range([c.x0, c.x1]);
  const y = d3.scaleLinear().domain(r.domain).range([r.y1, r.y0]);
  const line = d3
    .line<number>()
    .x((_, i) => x(EPOCHS[i]))
    .y((v) => y(v));
  const clipId = `clip-${p.col}-${p.row}`;
  const showX = p.row === 1;
  const showY = p.col === 0;
  const cx = (c.x0 + c.x1) / 2;
  const cy = (r.y0 + r.y1) / 2;
  return (
    <g>
      <defs>
        <clipPath id={clipId}>
          <rect x={c.x0} y={r.y0} width={c.x1 - c.x0} height={r.y1 - r.y0} />
        </clipPath>
      </defs>
      <g stroke="#cfcfcf" strokeWidth={1.2} strokeDasharray="5.5,3" fill="none">
        {X_TICKS.map((t) => (
          <line key={'gx' + t} x1={x(t)} x2={x(t)} y1={r.y0} y2={r.y1} />
        ))}
        {r.ticks.map((t) => (
          <line key={'gy' + t} x1={c.x0} x2={c.x1} y1={y(t)} y2={y(t)} />
        ))}
      </g>
      <g clipPath={`url(#${clipId})`} fill="none" strokeLinejoin="round" strokeLinecap="square">
        {p.kerasRuns.map((run, i) => (
          <path key={'gk' + i} d={line(run) || ''} stroke={GREEN_RUN} strokeOpacity={0.52} strokeWidth={2.4} />
        ))}
        {p.cntrRuns.map((run, i) => (
          <path key={'rc' + i} d={line(run) || ''} stroke={RED_RUN} strokeOpacity={0.52} strokeWidth={2.4} />
        ))}
        <path d={line(p.kerasMean) || ''} stroke={GREEN_MEAN} strokeWidth={2.6} />
        <path d={line(p.cntrMean) || ''} stroke={RED_MEAN} strokeWidth={2.6} />
      </g>
      <rect x={c.x0} y={r.y0} width={c.x1 - c.x0} height={r.y1 - r.y0} fill="none" stroke="#000" strokeWidth={1.4} />
      {X_TICKS.map((t) => (
        <g key={'xt' + t}>
          <line x1={x(t)} x2={x(t)} y1={r.y1} y2={r.y1 + 6} stroke="#000" strokeWidth={1.4} />
          {showX && (
            <text x={x(t)} y={r.y1 + 26.5} textAnchor="middle" fontSize={FS} fontFamily={FONT} fill="#000">
              {t}
            </text>
          )}
        </g>
      ))}
      {r.ticks.map((t) => (
        <g key={'yt' + t}>
          <line x1={c.x0 - 6} x2={c.x0} y1={y(t)} y2={y(t)} stroke="#000" strokeWidth={1.4} />
          {showY && (
            <text x={c.x0 - 11} y={y(t) + 6.4} textAnchor="end" fontSize={FS} fontFamily={FONT} fill="#000">
              {t}
            </text>
          )}
        </g>
      ))}
      <text x={cx} y={r.y0 - 10.3} textAnchor="middle" fontSize={TITLE_FS} fontFamily={FONT} fill="#000">
        {p.title}
      </text>
      {showX && (
        <text x={cx} y={1057} textAnchor="middle" fontSize={FS} fontFamily={FONT} fill="#000">
          {X_LABEL}
        </text>
      )}
      {showY && (
        <text
          transform={`translate(28, ${cy}) rotate(-90)`}
          textAnchor="middle"
          fontSize={FS}
          fontFamily={FONT}
          fill="#000"
        >
          {Y_LABEL}
        </text>
      )}
    </g>
  );
}

export default function App() {
  const panels: Panel[] = [
    { title: TITLES[0], col: 0, row: 0, kerasRuns: RESNET_KERAS_RUNS, cntrRuns: RESNET_CNTR_RUNS, kerasMean: RESNET_KERAS_MEAN, cntrMean: RESNET_CNTR_MEAN },
    { title: TITLES[1], col: 1, row: 0, kerasRuns: DENSENET_KERAS_RUNS, cntrRuns: DENSENET_CNTR_RUNS, kerasMean: DENSENET_KERAS_MEAN, cntrMean: DENSENET_CNTR_MEAN },
    { title: TITLES[2], col: 0, row: 1, kerasRuns: INCEPTION_KERAS_RUNS, cntrRuns: INCEPTION_CNTR_RUNS, kerasMean: INCEPTION_KERAS_MEAN, cntrMean: INCEPTION_CNTR_MEAN },
    { title: TITLES[3], col: 1, row: 1, kerasRuns: VGG_KERAS_RUNS, cntrRuns: VGG_CNTR_RUNS, kerasMean: VGG_KERAS_MEAN, cntrMean: VGG_CNTR_MEAN },
  ];
  const legendColors = [GREEN_MEAN, RED_MEAN];
  const legendRowsY = [1089, 1117];
  return (
    <svg
      width={953}
      height={1131}
      viewBox="0 0 953 1131"
      style={{ position: 'absolute', left: 0, top: 0, background: '#fff' }}
    >
      <rect x={0} y={0} width={953} height={1131} fill="#fff" />
      {panels.map((p) => (
        <PanelView key={p.title} p={p} />
      ))}
      <g>
        <rect x={226} y={1072.5} width={538} height={90} rx={4} fill="#fff" fillOpacity={0.8} stroke="#cccccc" strokeWidth={1.3} />
        {LEGEND_LABELS.map((lab, i) => (
          <g key={lab}>
            <line x1={231} x2={271} y1={legendRowsY[i]} y2={legendRowsY[i]} stroke={legendColors[i]} strokeWidth={2.6} />
            <text x={285} y={legendRowsY[i] + 6.5} fontSize={FS} fontFamily={FONT} fill="#000">
              {lab}
            </text>
          </g>
        ))}
      </g>
    </svg>
  );
}
